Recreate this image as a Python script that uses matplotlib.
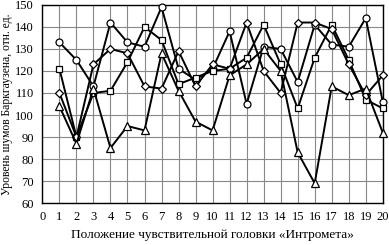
import matplotlib
matplotlib.use("Agg")
import matplotlib.pyplot as plt

positions = list(range(1, 21))
circles  = [133, 125, 113, 142, 133, 131, 149, 121, 116, 121, 138, 105, 131, 130, 115, 141, 132, 131, 144, 106]
squares  = [121, 90, 110, 111, 124, 140, 134, 114, 117, 120, 121, 126, 141, 123, 103, 126, 141, 125, 107, 103]
diamonds = [110, 90, 123, 130, 128, 113, 112, 129, 113, 123, 121, 142, 120, 110, 142, 142, 139, 123, 109, 118]
triangles = [104, 87, 112, 85, 95, 93, 128, 111, 97, 93, 118, 123, 130, 120, 83, 69, 113, 109, 112, 92]

x_ticks = list(range(0, 21))
y_ticks = list(range(60, 151, 10))

plt.rcParams['font.family'] = ['Liberation Serif', 'DejaVu Serif']

fig = plt.figure(figsize=(3.89, 2.45), dpi=100)
ax = fig.add_axes([0.109, 0.171, 0.875, 0.809])

common = dict(color='black', lw=1.4, mfc='white', mec='black', mew=0.9, clip_on=False, zorder=3)
ax.plot(positions, circles, marker='o', ms=5, **common)
ax.plot(positions, squares, marker='s', ms=4.8, **common)
ax.plot(positions, diamonds, marker='D', ms=4, **common)
ax.plot(positions, triangles, marker='^', ms=5.2, **common)

ax.set_xlim(0, 20)
ax.set_ylim(60, 150)
ax.set_xticks(x_ticks)
ax.set_yticks(y_ticks)
ax.grid(True, color='#888888', lw=0.8)
ax.set_axisbelow(True)
ax.tick_params(length=0, labelsize=9, pad=6)
for s in ax.spines.values():
    s.set_color('black')
    s.set_linewidth(1.0)

ax.set_xlabel('Положение чувствительной головки «Интромета»', fontsize=9.5, labelpad=4)
ax.set_ylabel('Уровень шумов Баркгаузена, отн. ед.', fontsize=8.4, labelpad=2)

fig.savefig('out.png', dpi=100)
